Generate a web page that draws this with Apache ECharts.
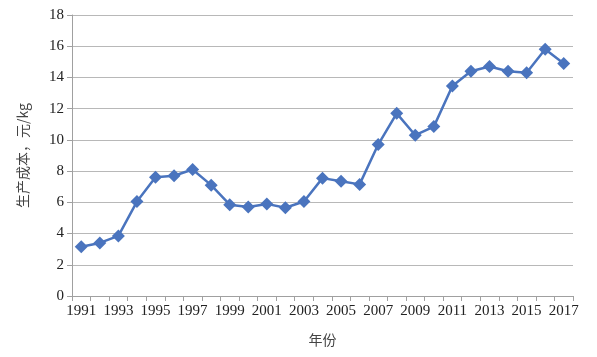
<!DOCTYPE html>
<html><head><meta charset="utf-8">
<script src="https://cdn.jsdelivr.net/npm/echarts@6/dist/echarts.min.js"></script>
<style>html,body{margin:0;padding:0;background:#fff}#c{width:597px;height:357px}</style>
</head><body><div id="c"></div>
<script>
var years = ['1991','1992','1993','1994','1995','1996','1997','1998','1999','2000','2001','2002','2003','2004','2005','2006','2007','2008','2009','2010','2011','2012','2013','2014','2015','2016','2017'];
var costs = [3.15,3.4,3.85,6.05,7.6,7.7,8.1,7.1,5.85,5.7,5.9,5.65,6.05,7.55,7.35,7.15,9.7,11.7,10.3,10.85,13.45,14.4,14.7,14.4,14.3,15.8,14.9];
var yTicks = [0,2,4,6,8,10,12,14,16,18];
var serif = '"Liberation Serif","DejaVu Serif",serif';
var chart = echarts.init(document.getElementById('c'));
chart.setOption({
  animation:false,
  grid:{left:72,right:24,top:15,bottom:61},
  xAxis:{type:'category',data:years,boundaryGap:true,
    name:'年份',nameLocation:'middle',nameGap:37,
    nameTextStyle:{fontFamily:'"Noto Sans CJK SC",sans-serif',fontSize:14,color:'#444'},
    axisLine:{lineStyle:{color:'#a0a0a0',width:1}},
    axisTick:{show:true,interval:0,length:5,lineStyle:{color:'#a0a0a0'}},
    axisLabel:{interval:1,fontFamily:serif,fontSize:15,color:'#222',margin:8},
    splitLine:{show:false}},
  yAxis:{type:'value',min:yTicks[0],max:yTicks[yTicks.length-1],interval:2,
    name:'生产成本，元/kg',nameLocation:'middle',nameRotate:90,nameGap:42,
    nameTextStyle:{fontFamily:'"Noto Sans CJK SC",sans-serif',fontSize:14,color:'#444'},
    axisLine:{show:true,lineStyle:{color:'#a0a0a0',width:1}},
    axisTick:{show:true,length:5,lineStyle:{color:'#a0a0a0'}},
    axisLabel:{fontFamily:serif,fontSize:15,color:'#222',margin:8},
    splitLine:{lineStyle:{color:'#b8b8b8',width:1}}},
  series:[{type:'line',data:costs,symbol:'diamond',symbolSize:13,showAllSymbol:true,
    lineStyle:{color:'#4a74be',width:2.5},
    itemStyle:{color:'#4a74be'}}]
});
</script></body></html>
